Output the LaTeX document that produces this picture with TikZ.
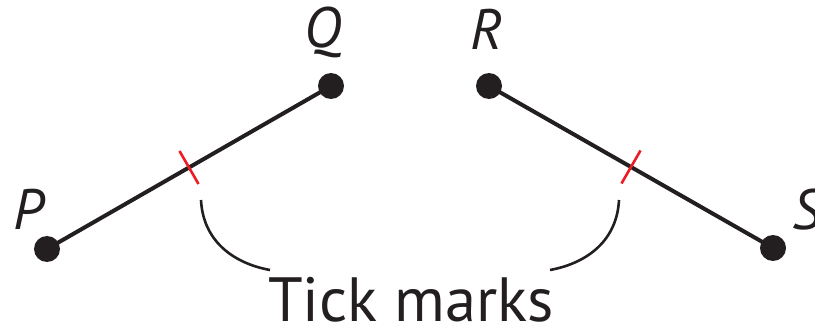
\documentclass[tikz,border=0pt]{standalone}
\usepackage{fontspec}
\setmainfont{PT Sans}
\usetikzlibrary{calc}
\definecolor{tickred}{RGB}{237,28,36}
\definecolor{ink}{RGB}{35,31,32}
\begin{document}
\begin{tikzpicture}[x=1pt,y=-1pt,
  seg/.style={draw=ink,line width=4pt},
  dot/.style={circle,fill=ink,inner sep=0pt,minimum size=26pt},
  tickmark/.style={draw=tickred,line width=2.6pt},
  leader/.style={draw=ink,line width=2.6pt},
  ptlabel/.style={font=\fontsize{57}{57}\selectfont\itshape,text=ink,inner sep=0pt}]
\useasboundingbox (0,0) rectangle (815,326);
\node[dot] (P) at (47,249) {};
\node[dot] (Q) at (331,86) {};
\node[dot] (R) at (489,86) {};
\node[dot] (S) at (773,248) {};
\draw[seg] (P.center) -- (Q.center);
\draw[seg] (R.center) -- (S.center);
\coordinate (m1) at ($(P)!0.5!(Q)$);
\coordinate (m2) at ($(R)!0.5!(S)$);
\draw[tickmark] (m1) -- ++(-9.5,-16.5) (m1) -- ++(9.5,16.5);
\draw[tickmark] (m2) -- ++(9.5,-16.5) (m2) -- ++(-9.5,16.5);
\node[ptlabel,anchor=base] (Pl) at (29,230) {P};
\node[ptlabel,anchor=base] (Ql) at (323,48) {Q};
\node[ptlabel,anchor=base] (Rl) at (487,50) {R};
\node[ptlabel,anchor=base west] (Sl) at (792,230) {S};
\node[font=\fontsize{62.5}{62.5}\selectfont,text=ink,inner sep=0pt,anchor=base] (tm) at (411,321) {Tick marks};
\coordinate (a1) at (201,200);
\coordinate (b1) at (270,270);
\coordinate (a2) at (619,200);
\coordinate (b2) at (550,270);
\draw[leader] (a1) .. controls (203,240) and (232,263) .. (b1);
\draw[leader] (a2) .. controls (617,240) and (588,263) .. (b2);
\end{tikzpicture}
\end{document}
